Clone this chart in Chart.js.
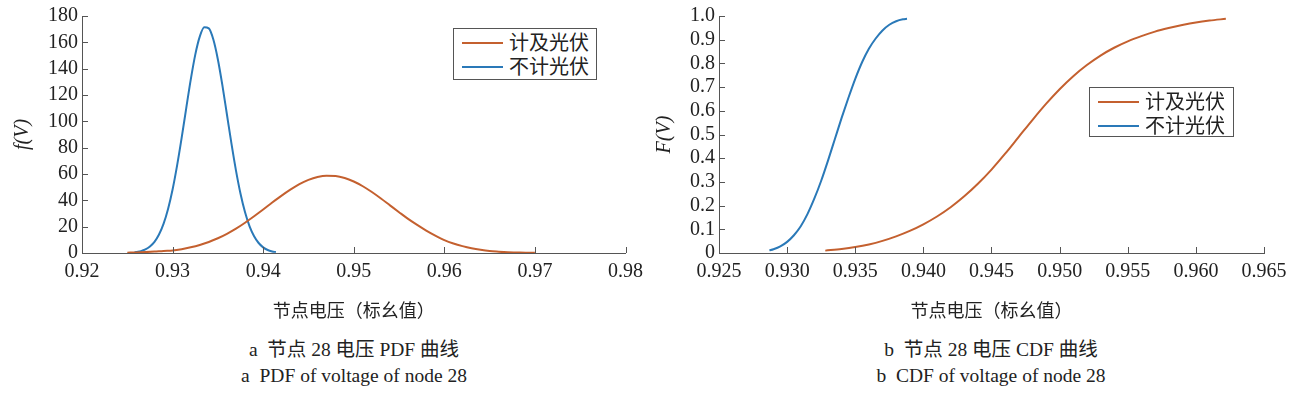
<!DOCTYPE html>
<html>
<head>
<meta charset="utf-8">
<script src="https://cdn.jsdelivr.net/npm/chart.js@4.4.1/dist/chart.umd.min.js"></script>
<style>
body { margin:0; background:#fff; width:1300px; height:394px; position:relative; overflow:hidden;
       font-family:'Liberation Serif','Noto Sans CJK SC',serif; color:#222; }
canvas { position:absolute; top:0; }
#pdfChart { left:0; }
#cdfChart { left:650px; }
.leyenda { position:absolute; border:1px solid #555; background:#fff; box-sizing:border-box; padding-top:2px; }
.fila { position:relative; height:24px; line-height:24px; font-size:20px; padding-left:55px; white-space:nowrap; }
.linea { position:absolute; left:8px; top:11px; width:41px; height:0; border-top:2px solid; }
.pie { position:absolute; top:337px; width:400px; text-align:center; font-size:19.5px; line-height:26px; white-space:pre; }
</style>
</head>
<body>
<canvas id="pdfChart" width="650" height="330"></canvas>
<canvas id="cdfChart" width="650" height="330"></canvas>
<div id="legPdf" class="leyenda" style="left:453px;top:28px;width:144px;height:52px"></div>
<div id="legCdf" class="leyenda" style="left:1089px;top:87px;width:145px;height:50px"></div>
<div class="pie" style="left:154px">a  节点 28 电压 PDF 曲线
a  PDF of voltage of node 28</div>
<div class="pie" style="left:791px">b  节点 28 电压 CDF 曲线
b  CDF of voltage of node 28</div>
<script>
// nombres de las series
var series = ['计及光伏', '不计光伏'];

// PDF - con fotovoltaica
var pdfPvV = [0.925,0.926,0.927,0.928,0.929,0.930,0.931,0.932,0.933,0.934,0.935,0.936,0.937,0.938,0.939,0.940,
              0.941,0.942,0.943,0.944,0.945,0.946,0.947,0.948,0.949,0.950,0.951,0.952,0.953,0.954,0.955,0.956,
              0.957,0.958,0.959,0.960,0.961,0.962,0.963,0.964,0.965,0.966,0.967,0.968,0.969,0.970];
var pdfPvF = [0.27,0.44,0.68,1.05,1.57,1.9,2.9,4.3,6.1,8.4,11.2,14.6,18.5,23.0,27.9,33.0,
              38.3,43.4,48.1,52.3,55.5,57.7,58.7,58.5,57.0,54.3,50.7,46.3,41.4,36.2,31.0,25.9,
              21.3,17.0,13.2,9.8,7.2,5.2,3.6,2.4,1.5,1.0,0.6,0.4,0.2,0.1];

// PDF - sin fotovoltaica
var pdfNoV = [0.9258,0.9260,0.9265,0.9270,0.9275,0.9280,0.9285,0.9290,0.9295,0.9300,0.9305,0.9310,0.9315,0.9320,
              0.9325,0.9330,0.9335,0.9340,0.9345,0.9350,0.9355,0.9360,0.9365,0.9370,0.9375,0.9380,0.9385,0.9390,
              0.9395,0.9400,0.9405,0.9410,0.9414];
var pdfNoF = [0.4,0.7,1.4,2.7,4.9,8.4,14.0,22.1,33.4,48.2,66.5,87.4,109.7,131.5,
              150.5,164.3,171.4,170.6,162.1,147.0,127.3,105.2,83.0,62.6,45.0,30.9,20.2,12.7,
              7.6,4.3,2.3,1.2,0.7];

// CDF - con fotovoltaica
var cdfPvV = [0.9328,0.934,0.935,0.936,0.937,0.938,0.939,0.940,0.941,0.942,0.943,0.944,0.945,0.946,0.947,
              0.948,0.949,0.950,0.951,0.952,0.953,0.954,0.955,0.956,0.957,0.958,0.959,0.960,0.961,0.9622];
var cdfPvF = [0.010,0.017,0.025,0.036,0.051,0.070,0.093,0.121,0.154,0.193,0.239,0.292,0.352,0.419,0.490,
              0.561,0.629,0.691,0.746,0.793,0.833,0.866,0.893,0.915,0.934,0.949,0.962,0.973,0.981,0.988];

// CDF - sin fotovoltaica
var cdfNoV = [0.9287,0.9290,0.9295,0.9300,0.9305,0.9310,0.9315,0.9320,0.9325,0.9330,0.9335,
              0.9340,0.9345,0.9350,0.9355,0.9360,0.9365,0.9370,0.9375,0.9380,0.9385,0.9388];
var cdfNoF = [0.011,0.016,0.028,0.047,0.075,0.113,0.165,0.230,0.305,0.390,0.480,
              0.570,0.655,0.735,0.805,0.862,0.905,0.939,0.963,0.978,0.986,0.988];

// ejes
var pdfTicksX  = [0.92,0.93,0.94,0.95,0.96,0.97,0.98];
var pdfLabelsX = ['0.92','0.93','0.94','0.95','0.96','0.97','0.98'];
var pdfTicksY  = [0,20,40,60,80,100,120,140,160,180];
var pdfLabelsY = ['0','20','40','60','80','100','120','140','160','180'];
var cdfTicksX  = [0.925,0.930,0.935,0.940,0.945,0.950,0.955,0.960,0.965];
var cdfLabelsX = ['0.925','0.930','0.935','0.940','0.945','0.950','0.955','0.960','0.965'];
var cdfTicksY  = [0,0.1,0.2,0.3,0.4,0.5,0.6,0.7,0.8,0.9,1.0];
var cdfLabelsY = ['0','0.1','0.2','0.3','0.4','0.5','0.6','0.7','0.8','0.9','1.0'];

var colores = ['#c4602f', '#2a79b8'];
var ejeColor = '#555';
var familia = "'Liberation Serif', 'Noto Sans CJK SC', serif";

Chart.defaults.font.family = familia;
Chart.defaults.color = '#222';

function puntos(xs, ys)
{
  return xs.map(function(v, i){ return {x: v, y: ys[i]}; });
}

// marcas de ticks hacia adentro
var ticksAdentro = {
  id: 'ticksAdentro',
  afterDraw: function(chart) {
    var ctx = chart.ctx, a = chart.chartArea;
    var sx = chart.scales.x, sy = chart.scales.y;
    ctx.save();
    ctx.strokeStyle = ejeColor;
    ctx.lineWidth = 1;
    ctx.beginPath();
    sx.ticks.forEach(function(t){
      var px = Math.round(sx.getPixelForValue(t.value)) + 0.5;
      ctx.moveTo(px, a.bottom); ctx.lineTo(px, a.bottom - 6);
    });
    sy.ticks.forEach(function(t){
      var py = Math.round(sy.getPixelForValue(t.value)) + 0.5;
      ctx.moveTo(a.left, py); ctx.lineTo(a.left + 6, py);
    });
    ctx.stroke();
    ctx.restore();
  }
};

function dibujar(id, datos, ej)
{
  var ctx = document.getElementById(id).getContext('2d');
  return new Chart(ctx, {
    type: 'line',
    data: {
      datasets: datos.map(function(d, i){
        return {
          label: series[i],
          data: d,
          borderColor: colores[i],
          borderWidth: 2,
          pointRadius: 0,
          fill: false,
          cubicInterpolationMode: 'monotone'
        };
      })
    },
    options: {
      responsive: false,
      animation: false,
      devicePixelRatio: 1,
      layout: { padding: { top: 0, right: ej.padRight, bottom: 0, left: 0 } },
      plugins: { legend: { display: false }, tooltip: { enabled: false } },
      scales: {
        x: {
          type: 'linear', min: ej.xTicks[0], max: ej.xTicks[ej.xTicks.length - 1],
          afterBuildTicks: function(s){ s.ticks = ej.xTicks.map(function(v){ return {value: v}; }); },
          afterFit: function(s){ s.height = 77; },
          grid: { display: false, drawTicks: false },
          border: { color: ejeColor },
          ticks: { autoSkip: false, maxRotation: 0, padding: 7, font: { family: familia, size: 20 },
                   callback: function(v, i){ return ej.xLabels[i]; } },
          title: { display: true, text: '节点电压（标幺值）', font: { family: familia, size: 18 }, padding: { top: 0, bottom: 7 } }
        },
        y: {
          type: 'linear', min: ej.yTicks[0], max: ej.yTicks[ej.yTicks.length - 1],
          afterBuildTicks: function(s){ s.ticks = ej.yTicks.map(function(v){ return {value: v}; }); },
          afterFit: function(s){ s.width = ej.yWidth; },
          grid: { display: false, drawTicks: false },
          border: { color: ejeColor },
          ticks: { autoSkip: false, padding: 4, font: { family: familia, size: 20 },
                   callback: function(v, i){ return ej.yLabels[i]; } },
          title: { display: true, text: ej.yTitle, font: { family: familia, size: 20, style: 'italic' }, padding: { top: ej.yTitlePad, bottom: 0 } }
        }
      }
    },
    plugins: [ticksAdentro]
  });
}

function leyenda(id)
{
  var html = '';
  series.forEach(function(s, i){
    html += '<div class="fila"><span class="linea" style="border-color:' + colores[i] + '"></span>' + s + '</div>';
  });
  document.getElementById(id).innerHTML = html;
}

dibujar('pdfChart', [puntos(pdfPvV, pdfPvF), puntos(pdfNoV, pdfNoF)], {
  xTicks: pdfTicksX, xLabels: pdfLabelsX, yTicks: pdfTicksY, yLabels: pdfLabelsY,
  yTitle: 'f(V)', yWidth: 82, yTitlePad: 11, padRight: 24
});

dibujar('cdfChart', [puntos(cdfPvV, cdfPvF), puntos(cdfNoV, cdfNoF)], {
  xTicks: cdfTicksX, xLabels: cdfLabelsX, yTicks: cdfTicksY, yLabels: cdfLabelsY,
  yTitle: 'F(V)', yWidth: 69, yTitlePad: 3, padRight: 36
});

leyenda('legPdf');
leyenda('legCdf');
</script>
</body>
</html>
